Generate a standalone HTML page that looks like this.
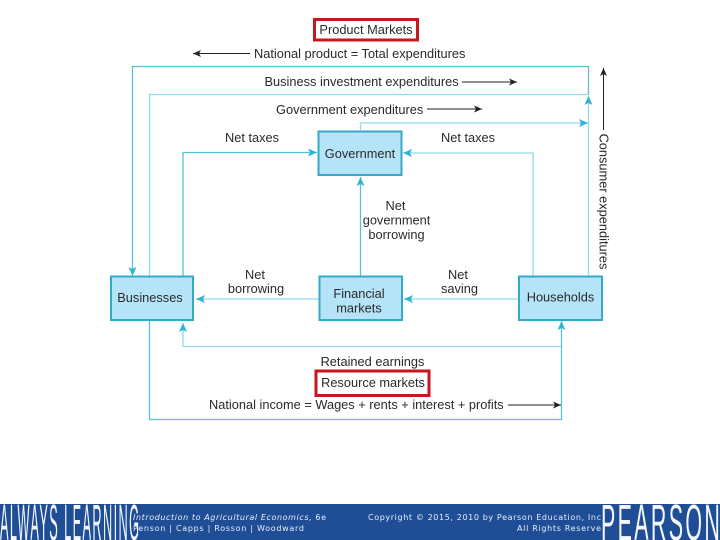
<!DOCTYPE html>
<html lang="en">
<head>
<meta charset="utf-8">
<title>Circular flow diagram</title>
<style>
html,body{margin:0;padding:0;width:720px;height:540px;overflow:hidden;background:#fff}
svg{display:block}
text{font-family:"Liberation Sans",sans-serif;font-size:12.8px;fill:#2a2a2a}
.c{text-anchor:middle}
text.f{font-family:"DejaVu Sans",sans-serif;font-size:8px;fill:#e8eef8}
text.b{font-family:"Liberation Sans",sans-serif;font-size:51px;fill:#f4f7fc}
</style>
</head>
<body>
<svg width="720" height="540" viewBox="0 0 720 540" xmlns="http://www.w3.org/2000/svg">
<defs>
<marker id="ac" markerWidth="10" markerHeight="8" refX="9" refY="4" orient="auto" markerUnits="userSpaceOnUse"><path d="M0 0L9 4L0 8L2 4Z" fill="#2fb4d6"/></marker>
<marker id="ak" markerWidth="9" markerHeight="7" refX="8" refY="3.5" orient="auto" markerUnits="userSpaceOnUse"><path d="M0 0L8 3.5L0 7L2 3.5Z" fill="#222"/></marker>
</defs>
<rect width="720" height="540" fill="#fff"/>

<!-- darker connectors -->
<g fill="none" stroke="#56c4d6" stroke-width="1.3">
<path d="M588.5 95V66.5H132.5V276" marker-end="url(#ac)"/>
<path d="M149.5 320V419.5H561.5V321" marker-end="url(#ac)"/>
<path d="M183 276V152.500H317" marker-end="url(#ac)"/>
<path d="M360.5 276V177" marker-end="url(#ac)"/>
</g>
<!-- lighter connectors -->
<g fill="none" stroke="#8fdcea" stroke-width="1.3">
<path d="M149.5 276V94.5H588"/>
<path d="M588.5 276V96" marker-end="url(#ac)"/>
<path d="M360.5 130V123H588" marker-end="url(#ac)"/>
<path d="M533 276V153H403" marker-end="url(#ac)"/>
<path d="M319 299H196" marker-end="url(#ac)"/>
<path d="M519 299H404" marker-end="url(#ac)"/>
<path d="M561 346.500H183V323" marker-end="url(#ac)"/>
</g>

<!-- black arrows -->
<g fill="none" stroke="#222" stroke-width="1">
<path d="M250 53.500H193" marker-end="url(#ak)"/>
<path d="M462 82H517" marker-end="url(#ak)"/>
<path d="M427 109H482" marker-end="url(#ak)"/>
<path d="M603.500 130V68" marker-end="url(#ak)"/>
<path d="M508 405H561" marker-end="url(#ak)"/>
</g>

<!-- nodes -->
<g fill="#b5e3f8" stroke="#35a9c9" stroke-width="2">
<rect x="318.500" y="131.500" width="83" height="43.500"/>
<rect x="111" y="276.500" width="82" height="43.500"/>
<rect x="319.500" y="276.500" width="82.500" height="43.500"/>
<rect x="519" y="276.500" width="83" height="43.500"/>
</g>
<g fill="#fff" stroke="#c8161d" stroke-width="3">
<rect x="314.500" y="19.500" width="103" height="20.500"/>
<rect x="316" y="371" width="113" height="24.500"/>
</g>

<!-- labels -->
<text class="c" x="366" y="34">Product Markets</text>
<text x="254" y="58">National product = Total expenditures</text>
<text x="264.500" y="86">Business investment expenditures</text>
<text x="276" y="114">Government expenditures</text>
<text class="c" x="252" y="142">Net taxes</text>
<text class="c" x="468" y="142">Net taxes</text>
<text class="c" x="360" y="158">Government</text>
<text class="c" x="395.500" y="210">Net</text>
<text class="c" x="396.500" y="224.500">government</text>
<text class="c" x="396.500" y="239">borrowing</text>
<text class="c" x="255" y="279">Net</text>
<text class="c" x="256" y="293">borrowing</text>
<text class="c" x="458" y="279">Net</text>
<text class="c" x="459.500" y="293">saving</text>
<text class="c" x="150" y="302">Businesses</text>
<text class="c" x="359" y="298">Financial</text>
<text class="c" x="359" y="312.500">markets</text>
<text class="c" x="560.500" y="301.500">Households</text>
<text class="c" x="372.500" y="366">Retained earnings</text>
<text class="c" x="373" y="387">Resource markets</text>
<text x="209" y="409">National income = Wages + rents + interest + profits</text>
<text class="c" transform="translate(599.500 201.500) rotate(90)">Consumer expenditures</text>

<!-- footer -->
<rect x="0" y="504" width="720" height="36" fill="#1f4e96"/>
<text class="b" transform="translate(0 540) scale(.25 1)" x="0" y="0" letter-spacing="5.600">ALWAYS LEARNING</text>
<rect x="601" y="504" width="119" height="36" fill="#1f4e96"/>
<text class="b" transform="translate(601 540) scale(.42 1)" x="0" y="0" letter-spacing="5.600">PEARSON</text>
<text class="f" x="133" y="520" textLength="193" lengthAdjust="spacing"><tspan font-style="italic">Introduction to Agricultural Economics,</tspan> 6e</text>
<text class="f" x="133" y="531" textLength="171" lengthAdjust="spacing">Penson | Capps | Rosson | Woodward</text>
<text class="f" x="368" y="520" textLength="233" lengthAdjust="spacing">Copyright © 2015, 2010 by Pearson Education, Inc</text>
<text class="f" x="517" y="531" textLength="84" lengthAdjust="spacing">All Rights Reserve</text>
</svg>
</body>
</html>
